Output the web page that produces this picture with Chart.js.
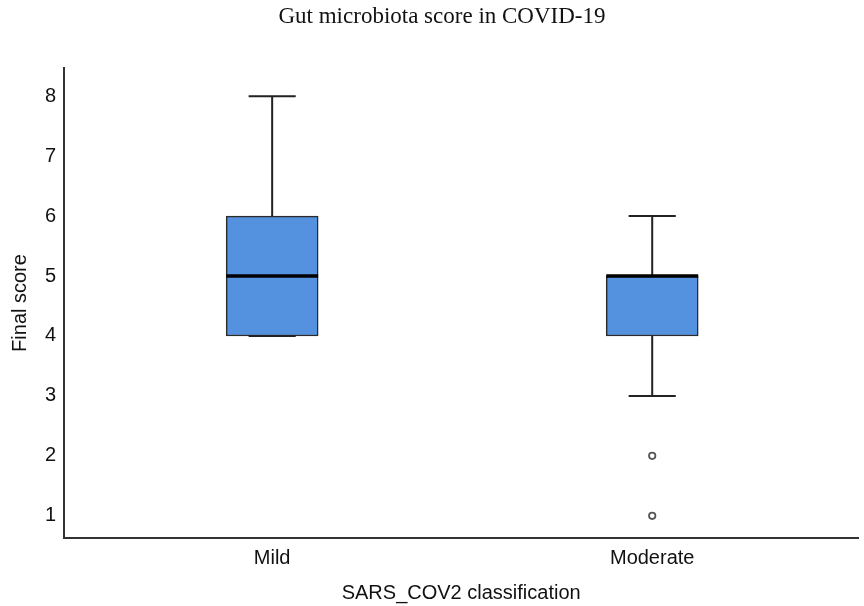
<!DOCTYPE html>
<html>
<head>
<meta charset="utf-8">
<script src="https://cdn.jsdelivr.net/npm/chart.js@4"></script>
<style>
  html, body { margin: 0; padding: 0; background: #fff; }
  #wrap { width: 864px; height: 606px; }
</style>
</head>
<body>
<div id="wrap"><canvas id="myChart"></canvas></div>
<script>
// box plot summary per group
const categories = ['Mild', 'Moderate'];
const whiskerLow = [4, 3];
const quart1 = [4, 4];
const medians = [5, 5];
const quart3 = [6, 5];
const whiskerHigh = [8, 6];
const outliers = [[], [2, 1]];

// half widths (x units) for the caps and median bars
const capHalf = 0.062;
const boxHalf = 0.121;

const boxes = categories.map((c, i) => ({ x: i + 1, y: [quart1[i], quart3[i]] }));

const whiskerPts = [];
categories.forEach((c, i) => {
    const x = i + 1;
    whiskerPts.push({ x: x, y: quart3[i] }, { x: x, y: whiskerHigh[i] }, { x: x, y: null });
    whiskerPts.push({ x: x, y: quart1[i] }, { x: x, y: whiskerLow[i] }, { x: x, y: null });
    whiskerPts.push({ x: x - capHalf, y: whiskerHigh[i] }, { x: x + capHalf, y: whiskerHigh[i] }, { x: x, y: null });
    whiskerPts.push({ x: x - capHalf, y: whiskerLow[i] }, { x: x + capHalf, y: whiskerLow[i] }, { x: x, y: null });
});

const medianPts = [];
categories.forEach((c, i) => {
    const x = i + 1;
    medianPts.push({ x: x - boxHalf, y: medians[i] }, { x: x + boxHalf, y: medians[i] }, { x: x, y: null });
});

const outlierPts = [];
outliers.forEach((arr, i) => arr.forEach(v => outlierPts.push({ x: i + 1, y: v })));

const ctx = document.getElementById('myChart').getContext('2d');
const myChart = new Chart(ctx, {
    type: 'bar',
    data: {
        datasets: [
            {
                type: 'bar',
                data: boxes,
                backgroundColor: 'rgb(84, 146, 224)',
                borderColor: '#2a2a2a',
                borderWidth: 1.5,
                borderSkipped: false,
                barThickness: 92,
                order: 3
            },
            {
                type: 'line',
                data: whiskerPts,
                borderColor: '#222',
                borderWidth: 2,
                pointRadius: 0,
                spanGaps: false,
                order: 2
            },
            {
                type: 'line',
                data: medianPts,
                borderColor: '#000',
                borderWidth: 3.5,
                pointRadius: 0,
                spanGaps: false,
                order: 1
            },
            {
                type: 'line',
                data: outlierPts,
                showLine: false,
                pointRadius: 3.2,
                pointBorderWidth: 1.8,
                pointBorderColor: '#555',
                pointBackgroundColor: '#fff',
                order: 0
            }
        ]
    },
    options: {
        responsive: true,
        maintainAspectRatio: false,
        animation: false,
        layout: { padding: { left: 20, right: 0, top: 0, bottom: 0 } },
        plugins: {
            legend: { display: false },
            tooltip: { enabled: false },
            title: {
                display: true,
                text: 'Gut microbiota score in COVID-19',
                color: '#111',
                font: { family: 'Liberation Serif', size: 23, weight: 'normal' },
                padding: { top: 3, bottom: 37.4 }
            }
        },
        scales: {
            x: {
                type: 'linear',
                offset: false,
                min: 0.4526,
                max: 2.542,
                grid: { display: false, drawTicks: false },
                border: { display: true, color: '#333', width: 2 },
                afterBuildTicks: (axis) => { axis.ticks = categories.map((c, i) => ({ value: i + 1 })); },
                ticks: {
                    color: '#111',
                    padding: 8,
                    font: { family: 'Liberation Sans', size: 20 },
                    callback: (v) => categories[v - 1]
                },
                title: {
                    display: true,
                    text: 'SARS_COV2 classification',
                    color: '#111',
                    font: { family: 'Liberation Sans', size: 20 },
                    padding: { top: 3, bottom: 1 }
                }
            },
            y: {
                type: 'linear',
                min: 0.63,
                max: 8.47,
                grid: { display: false, drawTicks: false },
                border: { display: true, color: '#333', width: 2 },
                ticks: {
                    stepSize: 1,
                    includeBounds: false,
                    color: '#111',
                    padding: 8,
                    font: { family: 'Liberation Sans', size: 20 }
                },
                title: {
                    display: true,
                    text: 'Final score',
                    color: '#111',
                    font: { family: 'Liberation Sans', size: 20 },
                    padding: { top: -12, bottom: 5 }
                }
            }
        }
    }
});
</script>
</body>
</html>
